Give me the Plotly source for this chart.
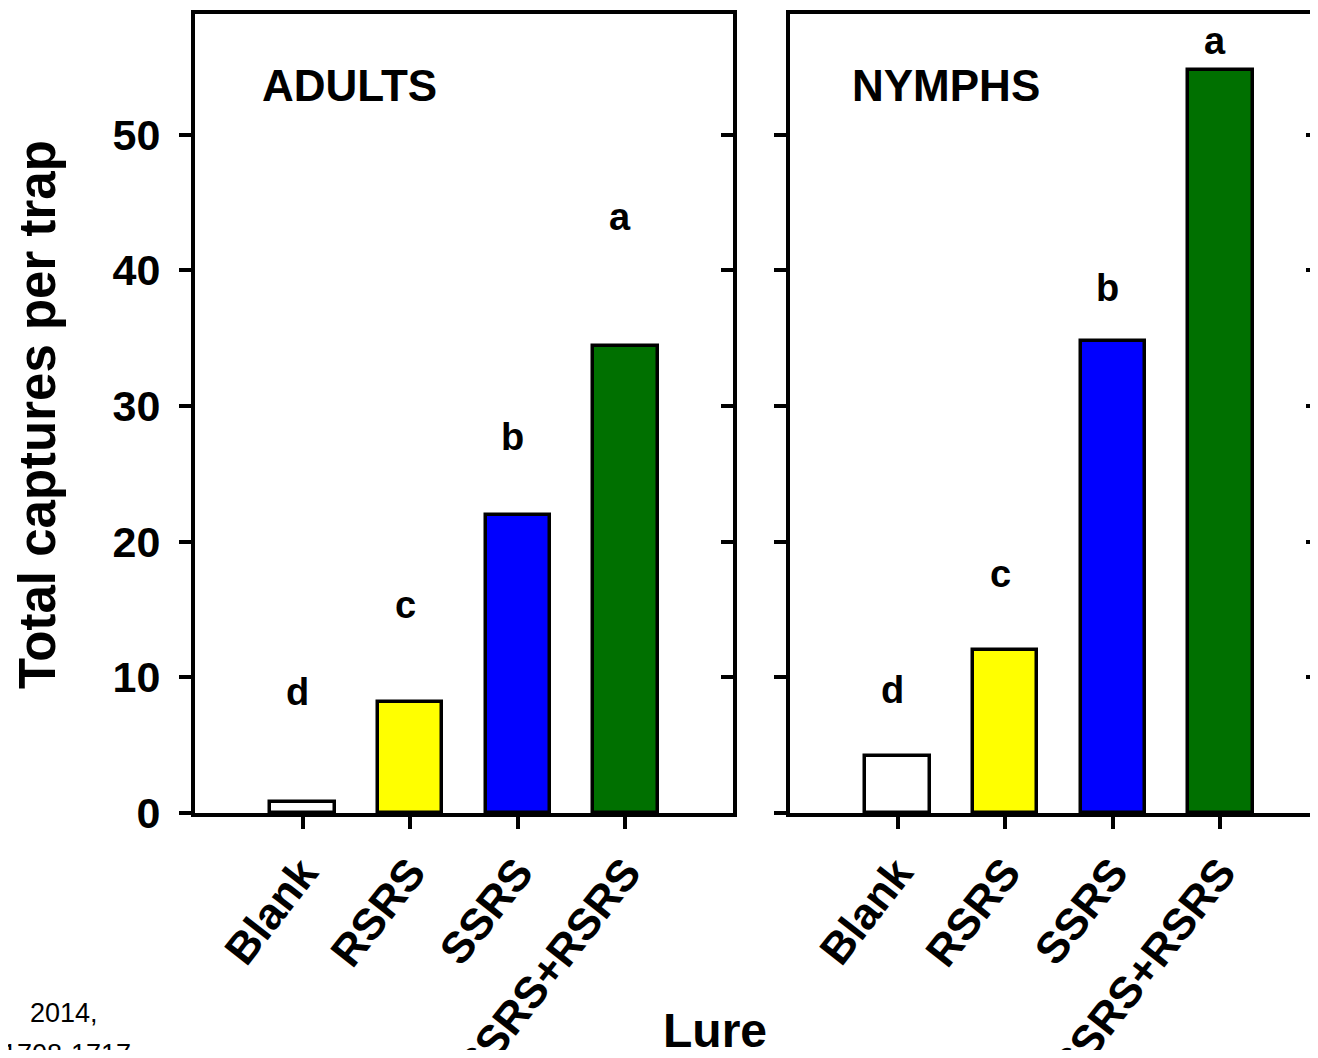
import plotly.graph_objects as go

# ---- data ----
categories = ["Blank", "RSRS", "SSRS", "SSRS+RSRS"]
adults = [0.8, 8.2, 22.0, 34.4]
nymphs = [4.2, 12.0, 34.8, 54.8]
adult_letters = ["d", "c", "b", "a"]
adult_letter_y = [8.9, 15.3, 27.7, 43.9]
nymph_letters = ["d", "c", "b", "a"]
nymph_letter_y = [9.1, 17.6, 38.7, 56.9]
y_ticks = [0, 10, 20, 30, 40, 50]
bar_colors = ["#FFFFFF", "#FFFF00", "#0000FF", "#007000"]

# page body has an 8px margin; figure sized to fit the 1318x1058 window exactly
OFF = 8
W, H = 1310, 1042
FONT = "Liberation Sans, Arial, sans-serif"
YMAX = 58.9
LW = 4
PLOT_TOP, PLOT_BOTTOM = 14, 813          # screen px
PH = PLOT_BOTTOM - PLOT_TOP


def px_x(px):
    return (px - OFF) / W


def px_y(py):
    return (PLOT_BOTTOM - py) / PH


fig = go.Figure()
fig.add_trace(go.Bar(x=categories, y=adults, width=0.6,
                     marker=dict(color=bar_colors, line=dict(color="black", width=3.5)),
                     xaxis="x", yaxis="y", showlegend=False, hoverinfo="skip"))
fig.add_trace(go.Bar(x=categories, y=nymphs, width=0.6,
                     marker=dict(color=bar_colors, line=dict(color="black", width=3.5)),
                     xaxis="x2", yaxis="y3", showlegend=False, hoverinfo="skip"))
# invisible copies so the right-hand (inside-tick) axes are surely drawn
fig.add_trace(go.Bar(x=categories, y=adults, width=0.6, opacity=0,
                     xaxis="x", yaxis="y2", showlegend=False, hoverinfo="skip"))
fig.add_trace(go.Bar(x=categories, y=nymphs, width=0.6, opacity=0,
                     xaxis="x2", yaxis="y4", showlegend=False, hoverinfo="skip"))

xcommon = dict(type="category", showline=True, linewidth=LW, linecolor="black",
               mirror=True, ticks="outside", ticklen=12, tickwidth=3.5, tickcolor="black",
               tickangle=-52, tickfont=dict(family=FONT, size=44, color="black", weight="bold"),
               showgrid=False, zeroline=False, fixedrange=True, automargin=False)
ycommon = dict(range=[0, YMAX], tickvals=y_ticks, showgrid=False, zeroline=False,
               ticklen=12, tickwidth=3.5, tickcolor="black", fixedrange=True,
               automargin=False)

fig.update_layout(
    width=W, height=H,
    margin=dict(l=0, r=0, t=PLOT_TOP - OFF, b=H - (PLOT_BOTTOM - OFF), autoexpand=False),
    paper_bgcolor="white", plot_bgcolor="white",
    bargap=0,
    xaxis=dict(domain=[px_x(195), px_x(733)], range=[-1, 4], anchor="y", **xcommon),
    xaxis2=dict(domain=[px_x(790), 1.0], range=[-1, 3.907], anchor="y3", **xcommon),
    yaxis=dict(anchor="x", showline=True, linewidth=LW, linecolor="black", mirror=True,
               ticks="outside", ticklabelstandoff=10,
               tickfont=dict(family=FONT, size=43, color="black", weight="bold"), **ycommon),
    yaxis2=dict(anchor="x", overlaying="y", side="right", ticks="inside",
                showticklabels=False, showline=False, **ycommon),
    yaxis3=dict(anchor="x2", showline=True, linewidth=LW, linecolor="black", mirror=False,
                ticks="outside", showticklabels=False, **ycommon),
    yaxis4=dict(anchor="x2", overlaying="y3", side="right", ticks="inside",
                showticklabels=False, showline=False, **ycommon),
)


def bold(s):
    return dict(family=FONT, size=s, color="black", weight="bold")


for c, t, yv in zip(categories, adult_letters, adult_letter_y):
    fig.add_annotation(x=c, y=yv, xref="x", yref="y", text=t, showarrow=False,
                       xshift=-5, font=bold(38))
for c, t, yv in zip(categories, nymph_letters, nymph_letter_y):
    fig.add_annotation(x=c, y=yv, xref="x2", yref="y3", text=t, showarrow=False,
                       xshift=-5, font=bold(38))

fig.add_annotation(x=0.121, y=0.911, xref="x domain", yref="y domain", text="ADULTS",
                   xanchor="left", yanchor="middle", showarrow=False, font=bold(44))
fig.add_annotation(x=0.1136, y=0.911, xref="x2 domain", yref="y3 domain", text="NYMPHS",
                   xanchor="left", yanchor="middle", showarrow=False, font=bold(44))

fig.add_annotation(x=px_x(38), y=px_y(415), xref="paper", yref="paper",
                   text="Total captures per trap", textangle=-90,
                   xanchor="center", yanchor="middle", showarrow=False, font=bold(51))
fig.add_annotation(x=px_x(715), y=px_y(1031), xref="paper", yref="paper", text="Lure",
                   xanchor="center", yanchor="middle", showarrow=False, font=bold(48))

fig.add_annotation(x=px_x(28), y=px_y(1013), xref="paper", yref="paper", text="2014,",
                   xanchor="left", yanchor="middle", showarrow=False,
                   font=dict(family=FONT, size=27, color="black"))
fig.add_annotation(x=px_x(0), y=px_y(1054), xref="paper", yref="paper", text="1708-1717",
                   xanchor="left", yanchor="middle", showarrow=False,
                   font=dict(family=FONT, size=27, color="black"))

fig.write_html("out.html")
